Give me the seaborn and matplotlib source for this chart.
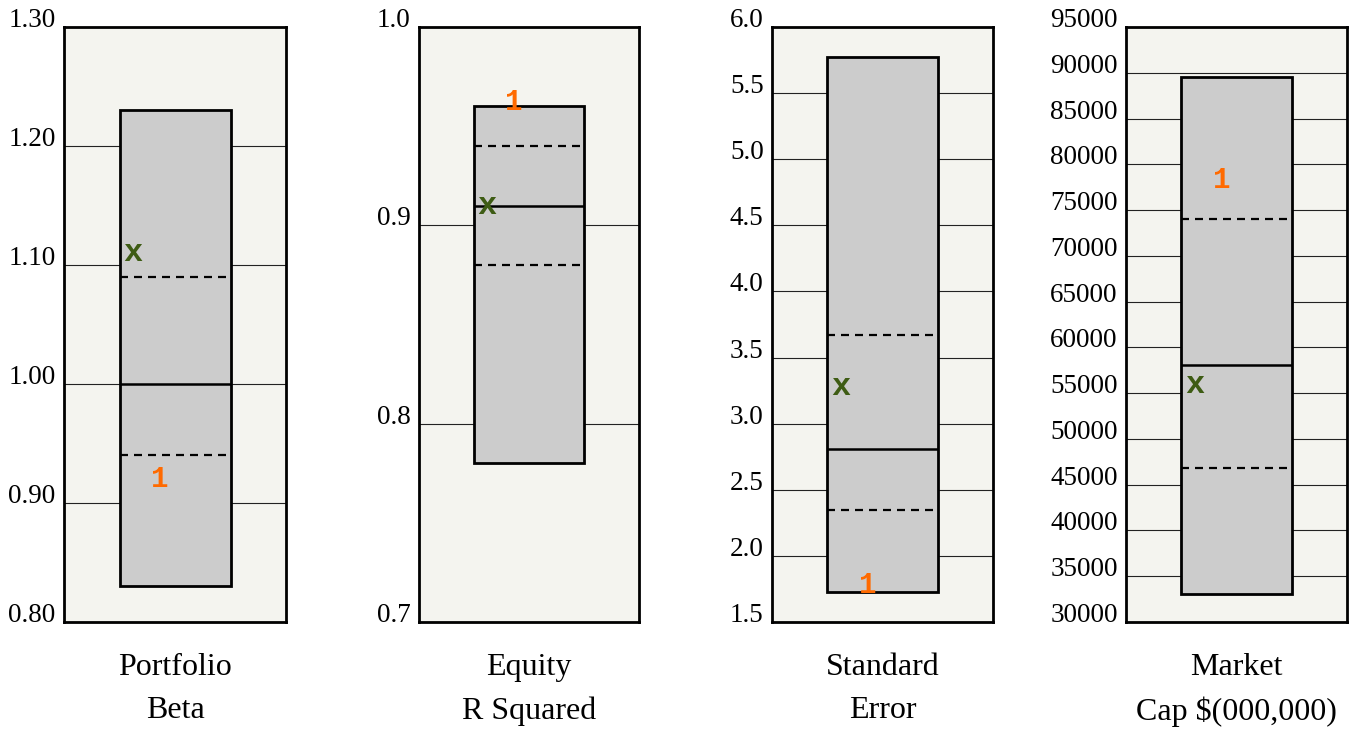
import matplotlib
matplotlib.use("Agg")
import matplotlib.pyplot as plt
import seaborn as sns
import pandas as pd

# ---- data ----
metrics = ["Portfolio\nBeta", "Equity\nR Squared", "Standard\nError", "Market\nCap $(000,000)"]
range_low = [0.83, 0.78, 1.73, 33060]
range_high = [1.23, 0.96, 5.77, 89540]
quartile_low = [0.94, 0.88, 2.35, 46800]
median = [1.00, 0.91, 2.81, 58100]
quartile_high = [1.09, 0.94, 3.67, 74000]
fund_value = [0.92, 0.962, 1.78, 78300]      # orange "1"
benchmark_value = [1.11, 0.91, 3.28, 55900]  # green "x"
y_limits = [(0.80, 1.30), (0.7, 1.0), (1.5, 6.0), (30000, 95000)]
y_ticks = [
    [0.80, 0.90, 1.00, 1.10, 1.20, 1.30],
    [0.7, 0.8, 0.9, 1.0],
    [1.5, 2.0, 2.5, 3.0, 3.5, 4.0, 4.5, 5.0, 5.5, 6.0],
    [30000, 35000, 40000, 45000, 50000, 55000, 60000, 65000, 70000, 75000, 80000, 85000, 90000, 95000],
]
tick_labels = [
    ["0.80", "0.90", "1.00", "1.10", "1.20", "1.30"],
    ["0.7", "0.8", "0.9", "1.0"],
    ["1.5", "2.0", "2.5", "3.0", "3.5", "4.0", "4.5", "5.0", "5.5", "6.0"],
    [str(v) for v in [30000, 35000, 40000, 45000, 50000, 55000, 60000, 65000, 70000, 75000, 80000, 85000, 90000, 95000]],
]

# ---- style ----
sns.set_style("white")
plt.rcParams["font.family"] = ["Liberation Serif", "DejaVu Serif"]
plt.rcParams["text.color"] = "black"
plt.rcParams["axes.labelcolor"] = "black"
plt.rcParams["ytick.color"] = "black"

W, H = 1351, 729
fig = plt.figure(figsize=(W / 100, H / 100), dpi=100)
fig.patch.set_facecolor("white")

lefts = [64, 419, 772, 1126]
widths = [222, 220, 221, 221]
top_px, bottom_px = 27, 622

BG = "#f4f4ef"
BOX = "#cccccc"
GREEN = "#3e5c14"
ORANGE = "#ff6a00"
BOX_W = 0.5

for i in range(4):
    ax = fig.add_axes([lefts[i] / W, 1 - bottom_px / H, widths[i] / W, (bottom_px - top_px) / H])
    ax.set_facecolor(BG)
    df = pd.DataFrame({"metric": [metrics[i]], "span": [range_high[i] - range_low[i]]})
    sns.barplot(data=df, x="metric", y="span", bottom=range_low[i], width=BOX_W,
                color=BOX, saturation=1, edgecolor="black", linewidth=2.0,
                errorbar=None, ax=ax, zorder=2)
    ax.set_xlim(-0.5, 0.5)
    ax.set_ylim(*y_limits[i])
    ax.set_yticks(y_ticks[i])
    ax.set_yticklabels(tick_labels[i], fontsize=19.5, va="baseline", color="black")
    ax.tick_params(axis="y", length=0, pad=6)
    ax.set_xticks([])
    ax.set_ylabel("")
    ax.set_xlabel(metrics[i], fontsize=23, linespacing=1.65, labelpad=22, color="black")
    ax.yaxis.grid(True, color="#222222", linewidth=0.8, zorder=0)
    ax.set_axisbelow(True)
    for s in ax.spines.values():
        s.set_linewidth(2.0)
        s.set_color("black")
        s.set_visible(True)

    # quartile and median lines
    ax.hlines([quartile_low[i], quartile_high[i]], -BOX_W / 2, BOX_W / 2, colors="black",
              linewidth=1.6, linestyles=[(0, (3.6, 2.7))], zorder=3)
    ax.hlines(median[i], -BOX_W / 2, BOX_W / 2, colors="black", linewidth=1.8, zorder=3)

    # markers
    ax.text(-0.19, benchmark_value[i], "x", color=GREEN, fontsize=23, fontweight="bold",
            family="Liberation Mono", ha="center", va="center", zorder=4)
    ax.text(-0.068, fund_value[i], "1", color=ORANGE, fontsize=21, fontweight="bold",
            family="Liberation Mono", ha="center", va="center", zorder=4)

fig.savefig("out.png", dpi=100)
